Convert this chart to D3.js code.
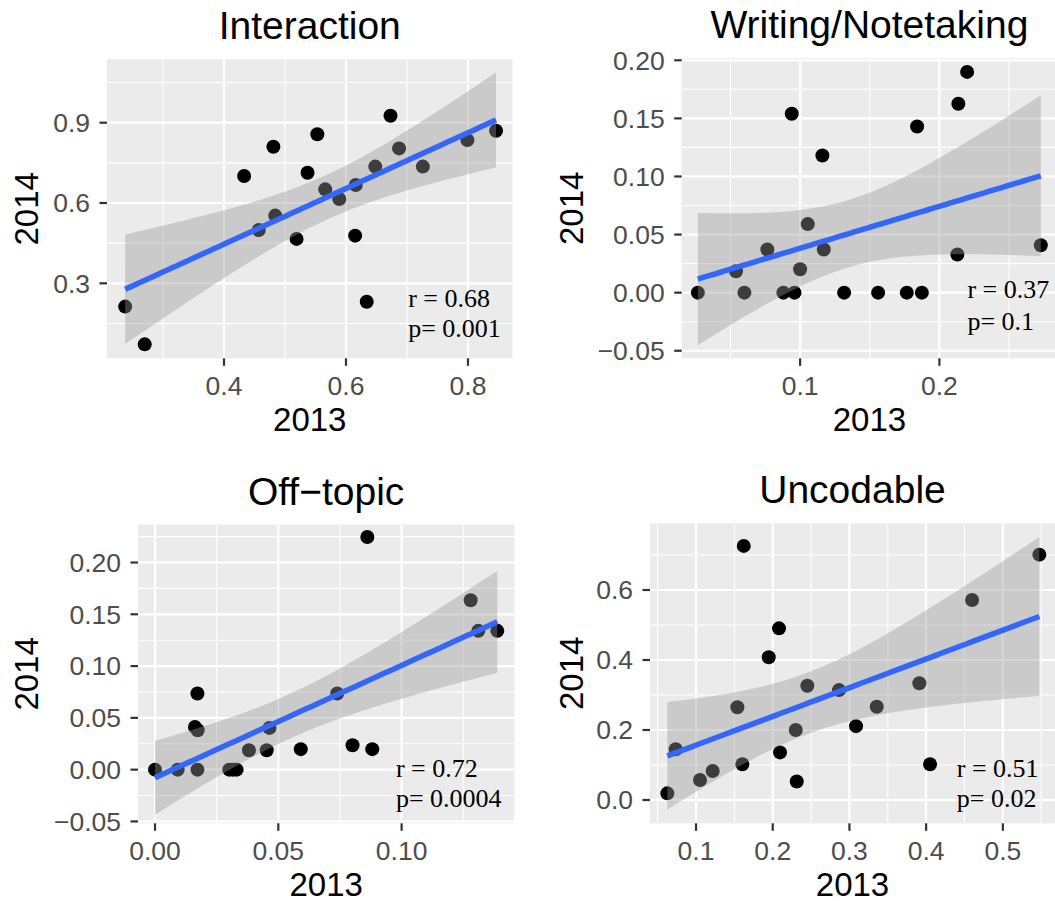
<!DOCTYPE html>
<html><head><meta charset="utf-8">
<script src="https://cdn.jsdelivr.net/npm/d3@7"></script>
<style>body{margin:0;background:#fff}svg{display:block}</style>
</head><body>
<svg id="chart" width="1055" height="903"></svg>
<script>
// ---------------- data ----------------
const interaction2013 = [0.238,0.270,0.433,0.481,0.457,0.484,0.519,0.537,0.553,0.566,0.589,0.616,0.615,0.634,0.648,0.673,0.687,0.726,0.799,0.846];
const interaction2014 = [0.213,0.072,0.701,0.810,0.499,0.553,0.466,0.713,0.857,0.651,0.615,0.667,0.478,0.231,0.736,0.926,0.804,0.736,0.835,0.870];

const writing2013 = [0.0266,0.054,0.060,0.0765,0.088,0.096,0.094,0.100,0.1055,0.116,0.117,0.1316,0.156,0.1766,0.1874,0.184,0.2136,0.2199,0.2129,0.2728];
const writing2014 = [0,0.0184,0,0.0371,0,0,0.154,0.0201,0.059,0.118,0.0371,0,0,0,0,0.143,0.1626,0.190,0.0328,0.0408];

const offtopic2013 = [0,0.0092,0.0172,0.0172,0.0162,0.0173,0.0301,0.0331,0.0316,0.0381,0.0453,0.0464,0.0591,0.0739,0.0801,0.0861,0.0881,0.128,0.1311,0.1388];
const offtopic2014 = [0,0,0,0.0735,0.0413,0.038,0,0,0,0.0188,0.0188,0.0403,0.0198,0.0735,0.0236,0.2247,0.0198,0.1636,0.134,0.134];

const uncodable2013 = [0.0626,0.0735,0.1052,0.1217,0.1539,0.1604,0.1622,0.1948,0.2082,0.2095,0.230,0.2313,0.2451,0.2864,0.3086,0.3356,0.3911,0.4051,0.4599,0.5476];
const uncodable2014 = [0.019,0.145,0.057,0.083,0.265,0.102,0.726,0.408,0.4905,0.136,0.200,0.053,0.3266,0.314,0.211,0.2666,0.3334,0.102,0.5714,0.701];

const interactionXTicks = [0.4,0.6,0.8];
const interactionXLabels = ["0.4","0.6","0.8"];
const interactionYTicks = [0.3,0.6,0.9];
const interactionYLabels = ["0.3","0.6","0.9"];

const writingXTicks = [0.1,0.2];
const writingXLabels = ["0.1","0.2"];
const writingYTicks = [-0.05,0,0.05,0.10,0.15,0.20];
const writingYLabels = ["\u22120.05","0.00","0.05","0.10","0.15","0.20"];

const offtopicXTicks = [0,0.05,0.10];
const offtopicXLabels = ["0.00","0.05","0.10"];
const offtopicYTicks = [-0.05,0,0.05,0.10,0.15,0.20];
const offtopicYLabels = ["\u22120.05","0.00","0.05","0.10","0.15","0.20"];

const uncodableXTicks = [0.1,0.2,0.3,0.4,0.5];
const uncodableXLabels = ["0.1","0.2","0.3","0.4","0.5"];
const uncodableYTicks = [0,0.2,0.4,0.6];
const uncodableYLabels = ["0.0","0.2","0.4","0.6"];

const panelTitles = ["Interaction","Writing/Notetaking","Off\u2212topic","Uncodable"];
const rLabels = ["r = 0.68","r = 0.37","r = 0.72","r = 0.51"];
const pLabels = ["p= 0.001","p= 0.1","p= 0.0004","p= 0.02"];
const xAxisTitle = "2013";
const yAxisTitle = "2014";

// ---------------- layout ----------------
const panels = [
  {title:panelTitles[0], xs:interaction2013, ys:interaction2014, xT:interactionXTicks, xL:interactionXLabels, yT:interactionYTicks, yL:interactionYLabels,
   r:rLabels[0], p:pLabels[0], box:{l:107,t:59.3,r:512.5,b:358.3}, xDom:[0.2082,0.873], yDom:[0.0199,1.1368], ann:[0.702,0.2127,0.0984], yTitleX:37.5},
  {title:panelTitles[1], xs:writing2013, ys:writing2014, xT:writingXTicks, xL:writingXLabels, yT:writingYTicks, yL:writingYLabels,
   r:rLabels[1], p:pLabels[1], box:{l:681.7,t:58.3,r:1057.1,b:358.3}, xDom:[0.015,0.2845], yDom:[-0.0565,0.2017], ann:[0.2201,-0.0048,-0.0321], yTitleX:583},
  {title:panelTitles[2], xs:offtopic2013, ys:offtopic2014, xT:offtopicXTicks, xL:offtopicXLabels, yT:offtopicYTicks, yL:offtopicYLabels,
   r:rLabels[2], p:pLabels[2], box:{l:138,t:524.5,r:514.3,b:823.3}, xDom:[-0.0069,0.1457], yDom:[-0.0518,0.2367], ann:[0.0977,-0.0068,-0.0357], yTitleX:37.5},
  {title:panelTitles[3], xs:uncodable2013, ys:uncodable2014, xT:uncodableXTicks, xL:uncodableXLabels, yT:uncodableYTicks, yL:uncodableYLabels,
   r:rLabels[3], p:pLabels[3], box:{l:650,t:523.3,r:1055,b:823.3}, xDom:[0.04,0.568], yDom:[-0.0666,0.7906], ann:[0.4399,0.0666,-0.0191], yTitleX:583}
];

const SANS = "'Liberation Sans', Arial, Helvetica, sans-serif";
const SERIF = "'Liberation Serif', 'Times New Roman', Times, serif";
const svg = d3.select("#chart");
svg.append("rect").attr("width",1055).attr("height",903).attr("fill","#fff");

function tq975(df){
  const tbl = {10:2.228139,11:2.200985,12:2.178813,13:2.160369,14:2.144787,15:2.131450,16:2.119905,17:2.109816,18:2.100922,19:2.093024,20:2.085963,21:2.079614,22:2.073873};
  return tbl[df] || 1.96;
}

function minorTicks(major, dom){
  const step = major.length>1 ? major[1]-major[0] : 0.1;
  const out = [];
  const start = major[0]-step/2;
  for(let v=start; v<=dom[1]+1e-9; v+=step){ if(v>=dom[0]-1e-9) out.push(+v.toFixed(6)); }
  return out;
}

panels.forEach((P,i)=>{
  const b = P.box;
  const x = d3.scaleLinear().domain(P.xDom).range([b.l,b.r]);
  const y = d3.scaleLinear().domain(P.yDom).range([b.b,b.t]);
  const g = svg.append("g");
  const cid = "clip"+i;
  svg.append("defs").append("clipPath").attr("id",cid).append("rect")
    .attr("x",b.l).attr("y",b.t).attr("width",b.r-b.l).attr("height",b.b-b.t);

  // panel background
  g.append("rect").attr("x",b.l).attr("y",b.t).attr("width",b.r-b.l).attr("height",b.b-b.t).attr("fill","#EBEBEB");
  const grid = g.append("g").attr("clip-path",`url(#${cid})`);
  // minor grid
  minorTicks(P.xT,P.xDom).forEach(v=>grid.append("line").attr("x1",x(v)).attr("x2",x(v)).attr("y1",b.t).attr("y2",b.b).attr("stroke","#fff").attr("stroke-width",1.1));
  minorTicks(P.yT,P.yDom).forEach(v=>grid.append("line").attr("y1",y(v)).attr("y2",y(v)).attr("x1",b.l).attr("x2",b.r).attr("stroke","#fff").attr("stroke-width",1.1));
  // major grid
  P.xT.forEach(v=>grid.append("line").attr("x1",x(v)).attr("x2",x(v)).attr("y1",b.t).attr("y2",b.b).attr("stroke","#fff").attr("stroke-width",2.2));
  P.yT.forEach(v=>grid.append("line").attr("y1",y(v)).attr("y2",y(v)).attr("x1",b.l).attr("x2",b.r).attr("stroke","#fff").attr("stroke-width",2.2));

  // data
  const pts = P.xs.map((v,k)=>({x:v,y:P.ys[k]}));
  const marks = g.append("g").attr("clip-path",`url(#${cid})`);
  marks.selectAll("circle").data(pts).join("circle")
    .attr("cx",d=>x(d.x)).attr("cy",d=>y(d.y)).attr("r",7).attr("fill","#000");

  // linear fit with 95% confidence band (as geom_smooth(method="lm"))
  const n = pts.length;
  const mx = d3.mean(pts,d=>d.x), my = d3.mean(pts,d=>d.y);
  const sxx = d3.sum(pts,d=>(d.x-mx)**2);
  const sxy = d3.sum(pts,d=>(d.x-mx)*(d.y-my));
  const slope = sxy/sxx, icpt = my - slope*mx;
  const sse = d3.sum(pts,d=>(d.y-(icpt+slope*d.x))**2);
  const s = Math.sqrt(sse/(n-2));
  const tq = tq975(n-2);
  const [x0,x1] = d3.extent(pts,d=>d.x);
  const fit = d3.range(80).map(k=>{
    const xv = x0 + (x1-x0)*k/79;
    const yh = icpt + slope*xv;
    const se = s*Math.sqrt(1/n + (xv-mx)**2/sxx);
    return {x:xv, y:yh, lo:yh-tq*se, hi:yh+tq*se};
  });
  marks.append("path").datum(fit)
    .attr("d",d3.area().x(d=>x(d.x)).y0(d=>y(d.lo)).y1(d=>y(d.hi)))
    .attr("fill","#999999").attr("fill-opacity",0.4);
  marks.append("path").datum(fit)
    .attr("d",d3.line().x(d=>x(d.x)).y(d=>y(d.y)))
    .attr("fill","none").attr("stroke","#3366FF").attr("stroke-width",5.5);

  // annotations
  g.append("text").attr("x",x(P.ann[0])).attr("y",y(P.ann[1])).text(P.r)
    .attr("font-family",SERIF).attr("font-size",26).attr("fill","#000");
  g.append("text").attr("x",x(P.ann[0])).attr("y",y(P.ann[2])).text(P.p)
    .attr("font-family",SERIF).attr("font-size",26).attr("fill","#000");

  // axes: ticks + labels
  P.yT.forEach((v,k)=>{
    g.append("line").attr("x1",b.l-7.5).attr("x2",b.l).attr("y1",y(v)).attr("y2",y(v)).attr("stroke","#333").attr("stroke-width",2.2);
    g.append("text").attr("x",b.l-17).attr("y",y(v)).attr("dy","0.35em").attr("text-anchor","end")
      .attr("font-family",SANS).attr("font-size",26.5).attr("fill","#4D4D4D").text(P.yL[k]);
  });
  P.xT.forEach((v,k)=>{
    g.append("line").attr("x1",x(v)).attr("x2",x(v)).attr("y1",b.b).attr("y2",b.b+7.5).attr("stroke","#333").attr("stroke-width",2.2);
    g.append("text").attr("x",x(v)).attr("y",b.b+36.5).attr("text-anchor","middle")
      .attr("font-family",SANS).attr("font-size",26.5).attr("fill","#4D4D4D").text(P.xL[k]);
  });
  const pcx = (b.l+b.r)/2;
  // axis titles
  g.append("text").attr("x",pcx).attr("y",b.b+73).attr("text-anchor","middle")
    .attr("font-family",SANS).attr("font-size",33).attr("fill","#000").text(xAxisTitle);
  g.append("text").attr("transform",`translate(${P.yTitleX},${(b.t+b.b)/2}) rotate(-90)`).attr("text-anchor","middle")
    .attr("font-family",SANS).attr("font-size",33).attr("fill","#000").text(yAxisTitle);
  // panel title
  g.append("text").attr("x",pcx).attr("y",b.t-20).attr("text-anchor","middle")
    .attr("font-family",SANS).attr("font-size",39).attr("fill","#000").text(P.title);
});
</script>
</body></html>
